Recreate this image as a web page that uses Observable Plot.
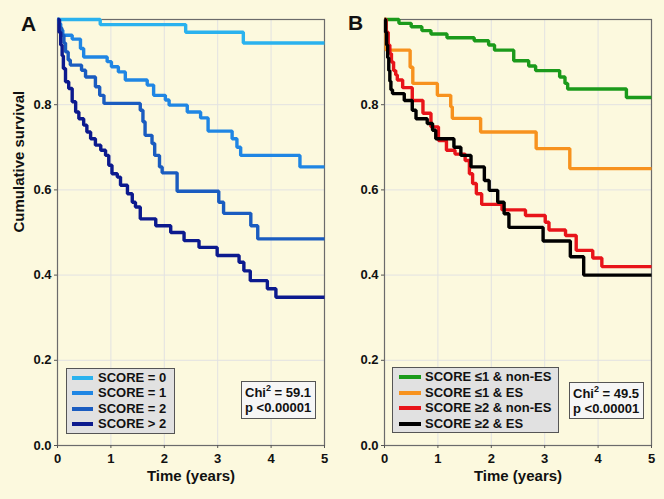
<!DOCTYPE html>
<html><head><meta charset="utf-8">
<script src="https://cdn.jsdelivr.net/npm/d3@7"></script>
<script src="https://cdn.jsdelivr.net/npm/@observablehq/plot@0.6"></script>
<style>
html,body{margin:0;padding:0;background:#fcf9de;}
#wrap{position:relative;width:664px;height:499px;background:#fcf9de;font-family:"Liberation Sans",Arial,sans-serif;overflow:hidden;}
.panel{position:absolute;top:0;}
.box{position:absolute;box-sizing:border-box;border:1px solid #555;font-weight:bold;font-size:13px;color:#111;}
.row{position:absolute;height:16px;line-height:16px;white-space:nowrap;}
.sw{position:absolute;height:4px;}
.letter{position:absolute;font-weight:bold;font-size:21px;color:#111;}
sup{font-size:9px;line-height:0;position:relative;top:-1px;}
</style>
</head><body><div id="wrap"></div>
<script>
// ---- Panel A data: [time (years), cumulative survival]
const namesA = ["SCORE = 0", "SCORE = 1", "SCORE = 2", "SCORE > 2"];
const colorsA = ["#2ab2ee", "#1f86e4", "#1a5cc0", "#0c1a8e"];
const score0 = [[0,1],[0.8,0.988],[2.4,0.97],[3.48,0.945],[5,0.945]];
const score1 = [[0,1],[0.03,0.99],[0.06,0.975],[0.1,0.963],[0.275,0.954],[0.43,0.932],[0.49,0.912],[0.93,0.901],[1.01,0.889],[1.14,0.877],[1.27,0.858],[1.68,0.846],[1.8,0.822],[2.02,0.811],[2.09,0.799],[2.43,0.783],[2.68,0.769],[2.82,0.738],[3.27,0.72],[3.36,0.70],[3.43,0.681],[4.54,0.654],[5,0.654]];
const score2 = [[0,1],[0.04,0.98],[0.08,0.963],[0.12,0.945],[0.15,0.924],[0.2,0.905],[0.24,0.893],[0.45,0.881],[0.525,0.865],[0.71,0.842],[0.79,0.822],[0.87,0.803],[1.55,0.787],[1.6,0.76],[1.64,0.728],[1.77,0.709],[1.82,0.681],[1.91,0.654],[1.96,0.64],[2.24,0.597],[3.02,0.571],[3.11,0.545],[3.62,0.516],[3.75,0.485],[5,0.485]];
const scoreGt2 = [[0,1],[0.03,0.97],[0.06,0.94],[0.087,0.915],[0.11,0.885],[0.15,0.854],[0.21,0.838],[0.275,0.807],[0.34,0.783],[0.40,0.767],[0.49,0.752],[0.55,0.736],[0.62,0.72],[0.71,0.705],[0.81,0.693],[0.90,0.681],[0.96,0.658],[1.02,0.638],[1.12,0.63],[1.18,0.611],[1.31,0.591],[1.40,0.571],[1.46,0.56],[1.55,0.532],[1.84,0.516],[2.12,0.50],[2.37,0.481],[2.65,0.465],[2.99,0.446],[3.40,0.43],[3.49,0.41],[3.61,0.387],[3.93,0.368],[4.09,0.348],[5,0.348]];
const statsA = ["59.1", "p <0.00001"];

// ---- Panel B data
const namesB = ["SCORE \u22641 & non-ES", "SCORE \u22641 & ES", "SCORE \u22652 & non-ES", "SCORE \u22652 & ES"];
const colorsB = ["#1b9a1b", "#f7921e", "#e8141a", "#000000"];
const lowNonES = [[0,1],[0.27,0.991],[0.5,0.983],[0.7,0.974],[0.87,0.966],[1.17,0.957],[1.68,0.95],[1.95,0.94],[2.06,0.928],[2.42,0.903],[2.7,0.891],[2.83,0.88],[3.28,0.865],[3.38,0.85],[3.43,0.837],[4.53,0.817],[5,0.817]];
const lowES = [[0,1],[0.03,0.928],[0.48,0.888],[0.53,0.85],[0.99,0.822],[1.24,0.795],[1.27,0.768],[1.80,0.736],[2.84,0.697],[3.47,0.65],[5,0.65]];
const highNonES = [[0,1],[0.03,0.97],[0.07,0.94],[0.1,0.92],[0.13,0.9],[0.17,0.88],[0.21,0.87],[0.24,0.858],[0.34,0.84],[0.52,0.81],[0.72,0.78],[0.87,0.748],[1.01,0.716],[1.16,0.693],[1.32,0.684],[1.51,0.669],[1.59,0.638],[1.65,0.615],[1.72,0.591],[1.82,0.566],[2.2,0.553],[2.64,0.54],[3.01,0.524],[3.08,0.506],[3.39,0.493],[3.59,0.458],[3.90,0.44],[4.07,0.42],[5,0.42]];
const highES = [[0,1],[0.02,0.97],[0.04,0.94],[0.06,0.91],[0.08,0.88],[0.1,0.855],[0.12,0.835],[0.15,0.826],[0.37,0.81],[0.52,0.787],[0.59,0.767],[0.80,0.756],[0.90,0.74],[0.96,0.72],[1.30,0.70],[1.43,0.681],[1.62,0.654],[1.87,0.622],[1.96,0.599],[2.12,0.571],[2.24,0.544],[2.33,0.512],[2.97,0.48],[3.48,0.443],[3.73,0.40],[5,0.40]];
const statsB = ["49.5", "p <0.00001"];

const xTicks = [0,1,2,3,4,5];
const yTicks = [0,0.2,0.4,0.6,0.8];
const xLabel = "Time (years)";
const yLabel = "Cumulative survival";

function makePanel(series, names, colors, mL, mR, showYLabel) {
  const data = series.flatMap((s, i) => s.map(([t, v]) => ({t, v, g: names[i]})));
  const marks = [
    Plot.gridX(xTicks.slice(1, -1), {stroke: "#e2e2e2", strokeOpacity: 1}),
    Plot.gridY(yTicks.slice(1), {stroke: "#e2e2e2", strokeOpacity: 1}),
    Plot.frame({stroke: "#6b6b6b", strokeWidth: 1.2}),
    Plot.line(data, {x: "t", y: "v", z: "g", stroke: "g", curve: "step-after", strokeWidth: 3.4, strokeLinejoin: "miter", strokeLinecap: "butt"}),
    Plot.axisX(xTicks, {tickSize: 3, tickPadding: 5, label: null, stroke: "#555", fontSize: 13, fontWeight: "bold"}),
    Plot.axisY(yTicks, {tickSize: 3, tickPadding: 3, label: null, tickFormat: d3.format(".1f"), stroke: "#555", fontSize: 13, fontWeight: "bold"}),
    Plot.text([xLabel], {text: d => d, frameAnchor: "bottom", dy: 35, fontSize: 15, fontWeight: "bold", fill: "#111"})
  ];
  if (showYLabel) marks.push(Plot.text([yLabel], {text: d => d, frameAnchor: "left", rotate: -90, dx: -38, fontSize: 15, fontWeight: "bold", fill: "#111"}));
  return Plot.plot({
    width: 332, height: 499,
    marginTop: 19, marginBottom: 54, marginLeft: mL, marginRight: mR,
    x: {domain: [0, 5]},
    y: {domain: [0, 1]},
    color: {domain: names, range: colors},
    style: {background: "transparent", fontFamily: "'Liberation Sans', Arial, sans-serif", fontSize: "13px", fontWeight: "bold", color: "#111", overflow: "visible"},
    marks
  });
}

const wrap = document.getElementById("wrap");
const pA = makePanel([score0, score1, score2, scoreGt2], namesA, colorsA, 57, 8, true);
pA.classList.add("panel"); pA.style.left = "0px"; wrap.appendChild(pA);
const pB = makePanel([lowNonES, lowES, highNonES, highES], namesB, colorsB, 52, 13, false);
pB.classList.add("panel"); pB.style.left = "332px"; wrap.appendChild(pB);

function letter(txt, left, top) {
  const d = document.createElement("div");
  d.className = "letter"; d.textContent = txt;
  d.style.left = left + "px"; d.style.top = top + "px";
  wrap.appendChild(d);
}
letter("A", 21, 12);
letter("B", 348, 11);

function legend(names, colors, left, top, w, h, swX, swW, txtX, y0, step) {
  const b = document.createElement("div");
  b.className = "box";
  Object.assign(b.style, {left: left + "px", top: top + "px", width: w + "px", height: h + "px", background: "#e1e1e1"});
  names.forEach((n, i) => {
    const cy = y0 + i * step;
    const sw = document.createElement("div");
    sw.className = "sw";
    Object.assign(sw.style, {left: swX + "px", width: swW + "px", top: (cy - 2) + "px", background: colors[i]});
    b.appendChild(sw);
    const r = document.createElement("div");
    r.className = "row"; r.textContent = n;
    Object.assign(r.style, {left: txtX + "px", top: (cy - 8) + "px"});
    b.appendChild(r);
  });
  wrap.appendChild(b);
}
legend(namesA, colorsA, 66, 368, 109, 66, 5, 21, 31, 8.5, 15.6);
legend(namesB, colorsB, 392, 367, 167, 66, 6, 22, 32, 9, 15.6);

function stats(vals, left, top, w, h) {
  const b = document.createElement("div");
  b.className = "box";
  Object.assign(b.style, {left: left + "px", top: top + "px", width: w + "px", height: h + "px", background: "#f6f6f6"});
  const r1 = document.createElement("div");
  r1.className = "row"; r1.innerHTML = "Chi<sup>2</sup> = " + vals[0];
  Object.assign(r1.style, {left: "3px", top: "3px"});
  const r2 = document.createElement("div");
  r2.className = "row"; r2.textContent = vals[1];
  Object.assign(r2.style, {left: "3px", top: "18px"});
  b.appendChild(r1); b.appendChild(r2);
  wrap.appendChild(b);
}
stats(statsA, 241, 381, 75, 38);
stats(statsB, 569, 382, 75, 37);
</script>
</body></html>
